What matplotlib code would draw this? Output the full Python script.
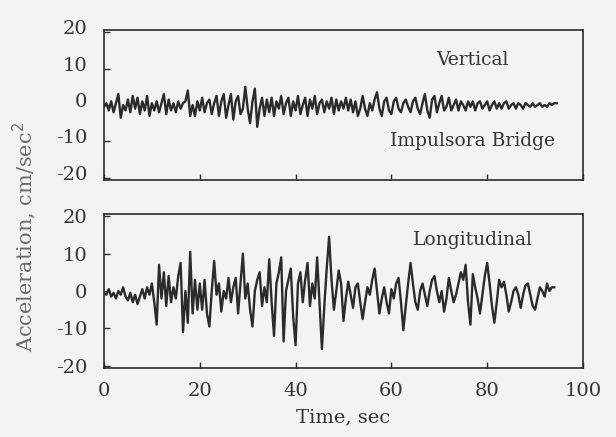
import numpy as np
import matplotlib
matplotlib.use('Agg')
import matplotlib.pyplot as plt
import matplotlib.transforms as mtransforms

# sampling interval of the digitised records, sec
DT = 0.5

vertical = [
    -0.5, 0.5, -1.5, 1.0, -2.0, 0.5, 3.0, -3.5, 0.0, -1.5, 1.5, -2.0, 2.5, -1.0, 2.0, -2.5, 1.0, -1.5, 2.5, -3.0,
    0.5, -1.5, 1.0, -2.0, 0.5, 3.0, -2.5, 1.5, -1.5, 0.5, -2.0, 1.0, -1.0, 0.5, 1.0, 4.0, -3.0, 0.0, -3.0, 1.0,
    -1.5, 2.0, -2.0, 0.5, 1.5, -2.5, 0.5, 2.5, -3.0, 1.0, 3.0, -3.5, 0.0, 3.0, -4.0, 1.0, 2.5, -2.5, -1.0, 5.0,
    -1.0, -5.0, 1.0, 4.5, -6.0, -1.0, 2.0, -3.0, 1.5, -2.0, 2.0, -3.0, 1.0, -1.0, 2.5, -2.5, 0.5, 2.0, -3.0, 1.0,
    -1.5, 2.5, -2.5, 0.0, 2.0, -3.0, 1.5, -1.0, 2.5, -2.5, 0.5, 1.5, -2.0, 1.0, -1.0, 2.0, -2.5, 1.5, -1.5, 1.0,
    -1.0, 2.0, -1.5, 1.5, -2.0, 1.0, -3.0, -1.0, 2.5, -1.0, -3.0, 0.5, -1.5, 1.5, 3.5, -1.0, -3.0, 1.0, 2.0, -1.5,
    -2.5, 1.0, 2.0, -1.0, -2.0, 0.5, 1.5, -0.5, -2.0, 1.0, 2.0, -1.0, -2.5, 0.5, 3.0, -1.5, -3.5, 1.5, 2.5, -2.0,
    0.5, 2.5, -1.5, -0.5, 2.0, -1.5, 0.0, 1.5, -1.5, 1.0, 0.0, -1.5, 1.0, -0.5, 1.0, -1.5, 0.5, 1.0, -1.0, 0.0,
    1.0, -1.5, 0.0, 1.0, -1.0, 0.5, -1.0, 0.5, 1.0, -1.0, 0.0, 0.5, -1.0, 0.5, 0.0, -1.0, 0.5, 0.0, -0.5, 0.5,
    -0.5, 0.0, 0.5, -0.5, 0.0, -0.5, 0.5, 0.0, 0.5, 0.5,
]

longitudinal = [
    -0.5, -1.0, 0.5, -1.5, -0.5, -2.0, 0.0, -1.0, 1.0, -1.5, -2.5, -0.5, -3.0, -1.0, -3.5, -1.5, 0.5, -2.0, 1.0, -1.0,
    2.0, -3.0, -9.0, 7.0, -2.0, 5.0, -4.0, 4.0, -3.0, 1.0, -2.0, 4.0, 7.5, -11.0, 0.0, -8.5, 10.5, -6.0, 3.0, -5.0,
    2.0, -5.0, 3.0, -6.0, -9.5, 0.0, 8.0, -1.0, 2.0, -5.5, 0.0, -2.0, 3.5, -3.0, 1.0, 3.5, -6.0, 2.0, 10.0, -2.0,
    2.0, -5.0, -9.5, 0.0, 3.0, 5.0, -4.0, 1.0, -3.0, 8.5, -3.0, -12.0, 2.0, 5.0, 9.0, -13.5, 0.0, 3.0, 6.0, -7.0,
    -14.5, 2.0, 5.0, -3.0, 3.0, 7.5, -4.0, 2.0, -2.0, 9.0, -3.0, -15.5, -4.0, 6.0, 14.5, 3.0, -5.0, 0.0, 5.5, 2.0,
    -8.0, -2.0, 2.5, -1.0, -4.5, 1.0, 2.0, -3.0, -7.5, -3.0, 1.0, -1.0, 3.0, 6.0, 0.0, -6.0, -2.0, 1.0, -3.0, -6.0,
    0.5, -2.0, 2.0, 3.5, -3.0, -10.5, -4.0, 2.0, 7.5, 2.0, -3.0, -5.0, 0.0, 2.0, -1.0, -4.0, 0.0, 3.0, 4.0, 0.0,
    -3.0, 0.0, -5.5, -2.0, 3.5, 0.0, -3.0, -1.0, 2.0, 5.0, 3.0, 7.0, -3.0, -9.0, 4.5, 1.0, -2.0, -6.0, -1.0, 4.0,
    7.5, 2.0, -4.0, -8.5, -3.0, 3.0, 1.0, 2.5, -1.0, -5.5, -3.0, 0.0, 1.0, -1.0, -4.5, -1.0, 1.5, 2.0, -1.0, -4.0,
    -5.0, -2.0, 1.0, 0.0, -1.5, 2.0, 0.0, 1.0, 1.0,
]

y_ticks = [-20, -10, 0, 10, 20]
x_ticks = [0, 20, 40, 60, 80, 100]

BG   = '#f3f3f3'
INK  = '#2b2b2b'
TXT  = '#333333'

plt.rcParams['font.family'] = ['DejaVu Serif']
plt.rcParams['axes.unicode_minus'] = False

fig = plt.figure(figsize=(6.16, 4.37), dpi=100, facecolor=BG)
ax_v = fig.add_axes([0.1688, 0.5881, 0.7776, 0.3432], facecolor=BG)
ax_l = fig.add_axes([0.1688, 0.1579, 0.7776, 0.3524], facecolor=BG)

records = [
    (ax_v, vertical),
    (ax_l, longitudinal),
]
for ax, vals in records:
    t = np.arange(len(vals)) * DT
    ax.plot(t, vals, color=INK, lw=1.7, solid_joinstyle='round')
    ax.set_xlim(0, 100)
    ax.set_ylim(-20.6, 20.6)
    ax.set_yticks(y_ticks)
    ax.set_xticks(x_ticks)
    ax.tick_params(direction='in', length=4, width=1, color=INK,
                   labelsize=14, labelcolor=TXT)
    ax.tick_params(axis='y', pad=12)
    for s in ax.spines.values():
        s.set_color(INK)
        s.set_linewidth(1.2)

ax_v.tick_params(labelbottom=False)
ax_l.tick_params(axis='x', pad=10)

# the scanned upper panel has its tick numbers sitting a little high
lift = mtransforms.ScaledTranslation(0, 0.05, fig.dpi_scale_trans)
for lab in ax_v.get_yticklabels():
    lab.set_transform(lab.get_transform() + lift)

ax_v.text(0.77, 0.80, 'Vertical', transform=ax_v.transAxes,
          ha='center', va='center', fontsize=13.5, color=TXT)
ax_v.text(0.77, 0.26, 'Impulsora Bridge', transform=ax_v.transAxes,
          ha='center', va='center', fontsize=13.5, color=TXT)
ax_l.text(0.77, 0.83, 'Longitudinal', transform=ax_l.transAxes,
          ha='center', va='center', fontsize=13.5, color=TXT)

ax_l.set_xlabel('Time, sec', fontsize=14, color=TXT, labelpad=6)
fig.text(0.04, 0.458, 'Acceleration, cm/sec$^2$', rotation=90,
         ha='center', va='center', fontsize=15, color='#6a6a6a')

fig.savefig('out.png', dpi=100, facecolor=BG)
plt.close(fig)
